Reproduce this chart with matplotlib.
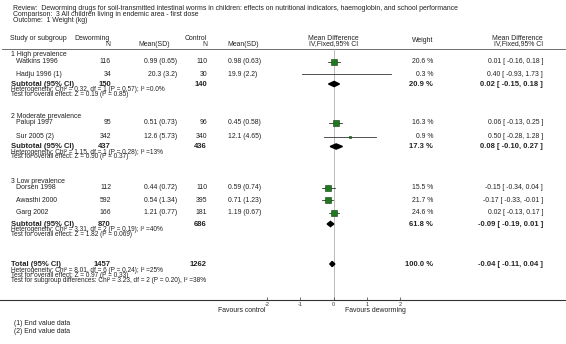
import numpy as np
import matplotlib
matplotlib.use("Agg")
import matplotlib.pyplot as plt
from matplotlib.patches import Polygon

plt.rcParams['font.family'] = ['Liberation Sans', 'DejaVu Sans']

# data
review = "Review:  Deworming drugs for soil-transmitted intestinal worms in children: effects on nutritional indicators, haemoglobin, and school performance"
comparison = "Comparison:  3 All children living in endemic area - first dose"
outcome = "Outcome:  1 Weight (kg)"

groups = ["1 High prevalence", "2 Moderate prevalence", "3 Low prevalence"]
studies = ["Watkins 1996", "Hadju 1996 (1)", "Palupi 1997", "Sur 2005 (2)",
           "Dorsen 1998", "Awasthi 2000", "Garg 2002"]
dew_n = [116, 34, 95, 342, 112, 592, 166]
dew_msd = ["0.99 (0.65)", "20.3 (3.2)", "0.51 (0.73)", "12.6 (5.73)",
           "0.44 (0.72)", "0.54 (1.34)", "1.21 (0.77)"]
ctl_n = [110, 30, 96, 340, 110, 395, 181]
ctl_msd = ["0.98 (0.63)", "19.9 (2.2)", "0.45 (0.58)", "12.1 (4.65)",
           "0.59 (0.74)", "0.71 (1.23)", "1.19 (0.67)"]
md = [0.01, 0.40, 0.06, 0.50, -0.15, -0.17, 0.02]
lo = [-0.16, -0.93, -0.13, -0.28, -0.34, -0.33, -0.13]
hi = [0.18, 1.73, 0.25, 1.28, 0.04, -0.01, 0.17]
weight = [20.6, 0.3, 16.3, 0.9, 15.5, 21.7, 24.6]

sub_dew_n = [150, 437, 870]
sub_ctl_n = [140, 436, 686]
sub_md = [0.02, 0.08, -0.09]
sub_lo = [-0.15, -0.10, -0.19]
sub_hi = [0.18, 0.27, 0.01]
sub_weight = [20.9, 17.3, 61.8]
sub_het = ["Heterogeneity: Chi\u00b2 = 0.32, df = 1 (P = 0.57); I\u00b2 =0.0%",
           "Heterogeneity: Chi\u00b2 = 1.15, df = 1 (P = 0.28); I\u00b2 =13%",
           "Heterogeneity: Chi\u00b2 = 3.31, df = 2 (P = 0.19); I\u00b2 =40%"]
sub_test = ["Test for overall effect: Z = 0.19 (P = 0.85)",
            "Test for overall effect: Z = 0.90 (P = 0.37)",
            "Test for overall effect: Z = 1.82 (P = 0.069)"]

tot_dew_n = 1457
tot_ctl_n = 1262
tot_md, tot_lo, tot_hi = -0.04, -0.11, 0.04
tot_notes = ["Heterogeneity: Chi\u00b2 = 8.01, df = 6 (P = 0.24); I\u00b2 =25%",
             "Test for overall effect: Z = 0.97 (P = 0.33)",
             "Test for subgroup differences: Chi\u00b2 = 3.23, df = 2 (P = 0.20), I\u00b2 =38%"]
footnotes = ["(1) End value data", "(2) End value data"]
ticks = [-2, -1, 0, 1, 2]

# layout (pixel rows)
group_y = [55, 117, 181.5]
study_y = [61.5, 74, 123, 136.5, 187.5, 200, 212.5]
sub_y = [84, 146.5, 224]
tot_y = 264

W, H = 566, 344
fig = plt.figure(figsize=(W / 100, H / 100), dpi=100)
bg = fig.add_axes([0, 0, 1, 1])
bg.set_xlim(0, W)
bg.set_ylim(H, 0)
bg.axis('off')

# forest axes: -2..2 maps to x px 266.7..400.3, bottom spine at y=300
px_per = 133.6 / 4
fa = fig.add_axes([0, (H - 300) / H, 1, (300 - 49) / H], facecolor='none')
fa.set_xlim(-2 - 266.7 / px_per, 2 + (W - 400.3) / px_per)
fa.set_ylim(300, 49)
for s in ['top', 'left', 'right']:
    fa.spines[s].set_visible(False)
fa.spines['bottom'].set_color('#333333')
fa.spines['bottom'].set_linewidth(0.8)
fa.set_yticks([])
fa.set_xticks(ticks)
fa.set_xticklabels([str(t) for t in ticks])
fa.tick_params(axis='x', direction='in', length=2, width=0.5, labelsize=4,
               pad=1.5, colors='#333333')

c = '#222222'
fs = 4.95
fb = 5.5
fn = 4.7  # heterogeneity / test lines

# titles
bg.text(13, 9, review, fontsize=fs, color=c, va='center')
bg.text(13, 15, comparison, fontsize=fs, color=c, va='center')
bg.text(13, 21, outcome, fontsize=fs, color=c, va='center')

# header
bg.text(10, 38, "Study or subgroup", fontsize=fs, color=c, va='center')
bg.text(110, 38, "Deworming", fontsize=fs, color=c, va='center', ha='right')
bg.text(110, 44, "N", fontsize=fs, color=c, va='center', ha='right')
bg.text(138, 44, "Mean(SD)", fontsize=fs, color=c, va='center')
bg.text(207, 38, "Control", fontsize=fs, color=c, va='center', ha='right')
bg.text(207, 44, "N", fontsize=fs, color=c, va='center', ha='right')
bg.text(227, 44, "Mean(SD)", fontsize=fs, color=c, va='center')
bg.text(333.5, 38, "Mean Difference", fontsize=fs, color=c, va='center', ha='center')
bg.text(333.5, 44, "IV,Fixed,95% CI", fontsize=fs, color=c, va='center', ha='center')
bg.text(433, 41, "Weight", fontsize=fs, color=c, va='center', ha='right')
bg.text(543, 38, "Mean Difference", fontsize=fs, color=c, va='center', ha='right')
bg.text(543, 44, "IV,Fixed,95% CI", fontsize=fs, color=c, va='center', ha='right')
bg.plot([2, W], [49, 49], color='#555555', lw=0.6)

# zero line
fa.axvline(0, color='#b0b0b0', lw=0.6, zorder=0)

def fmt_ci(m, l, h):
    return "%.2f [ %.2f, %.2f ]" % (m, l, h)

for g, name in enumerate(groups):
    bg.text(11, group_y[g], name, fontsize=fs, color=c, va='center')

for i, name in enumerate(studies):
    y = study_y[i]
    bg.text(16, y, name, fontsize=fs, color=c, va='center')
    bg.text(111, y, str(dew_n[i]), fontsize=fs, color=c, va='center', ha='right')
    bg.text(177, y, dew_msd[i], fontsize=fs, color=c, va='center', ha='right')
    bg.text(207, y, str(ctl_n[i]), fontsize=fs, color=c, va='center', ha='right')
    bg.text(228, y, ctl_msd[i], fontsize=fs, color=c, va='center')
    bg.text(433, y, "%.1f %%" % weight[i], fontsize=fs, color=c, va='center', ha='right')
    bg.text(543, y, fmt_ci(md[i], lo[i], hi[i]), fontsize=fs, color=c, va='center', ha='right')
    fa.plot([lo[i], hi[i]], [y, y], color='#333333', lw=0.6, zorder=2)
    side_px = 1.32 * np.sqrt(weight[i])
    side_pt = side_px * 72 / 100
    fa.scatter([md[i]], [y], marker='s', s=side_pt ** 2, color='#1f7a1f',
               edgecolors='#0d3d0d', linewidths=0.4, zorder=3)

def diamond(m, l, h, y):
    pts = [(l, y), (m, y - 2.6), (h, y), (m, y + 2.6)]
    fa.add_patch(Polygon(pts, closed=True, color='black', zorder=3))

for g in range(3):
    y = sub_y[g]
    bg.text(11, y, "Subtotal (95% CI)", fontsize=fb, fontweight='bold', color=c, va='center')
    bg.text(111, y, str(sub_dew_n[g]), fontsize=fb, fontweight='bold', color=c, va='center', ha='right')
    bg.text(207, y, str(sub_ctl_n[g]), fontsize=fb, fontweight='bold', color=c, va='center', ha='right')
    bg.text(433, y, "%.1f %%" % sub_weight[g], fontsize=fb, fontweight='bold', color=c, va='center', ha='right')
    bg.text(543, y, fmt_ci(sub_md[g], sub_lo[g], sub_hi[g]), fontsize=fb,
            fontweight='bold', color=c, va='center', ha='right')
    bg.text(11, y + 5.5, sub_het[g], fontsize=fn, color=c, va='center')
    bg.text(11, y + 10, sub_test[g], fontsize=fn, color=c, va='center')
    diamond(sub_md[g], sub_lo[g], sub_hi[g], y)

bg.text(11, tot_y, "Total (95% CI)", fontsize=fb, fontweight='bold', color=c, va='center')
bg.text(111, tot_y, str(tot_dew_n), fontsize=fb, fontweight='bold', color=c, va='center', ha='right')
bg.text(207, tot_y, str(tot_ctl_n), fontsize=fb, fontweight='bold', color=c, va='center', ha='right')
bg.text(433, tot_y, "100.0 %", fontsize=fb, fontweight='bold', color=c, va='center', ha='right')
bg.text(543, tot_y, fmt_ci(tot_md, tot_lo, tot_hi), fontsize=fb, fontweight='bold',
        color=c, va='center', ha='right')
for k, t in enumerate(tot_notes):
    bg.text(11, 270.5 + 5 * k, t, fontsize=fn, color=c, va='center')
diamond(tot_md, tot_lo, tot_hi, tot_y)

bg.text(265, 310, "Favours control", fontsize=fs, color=c, va='center', ha='right')
bg.text(345, 310, "Favours deworming", fontsize=fs, color=c, va='center')

for k, t in enumerate(footnotes):
    bg.text(14, 323.5 + 8 * k, t, fontsize=fs, color=c, va='center')

fig.savefig("out.png", dpi=100)
